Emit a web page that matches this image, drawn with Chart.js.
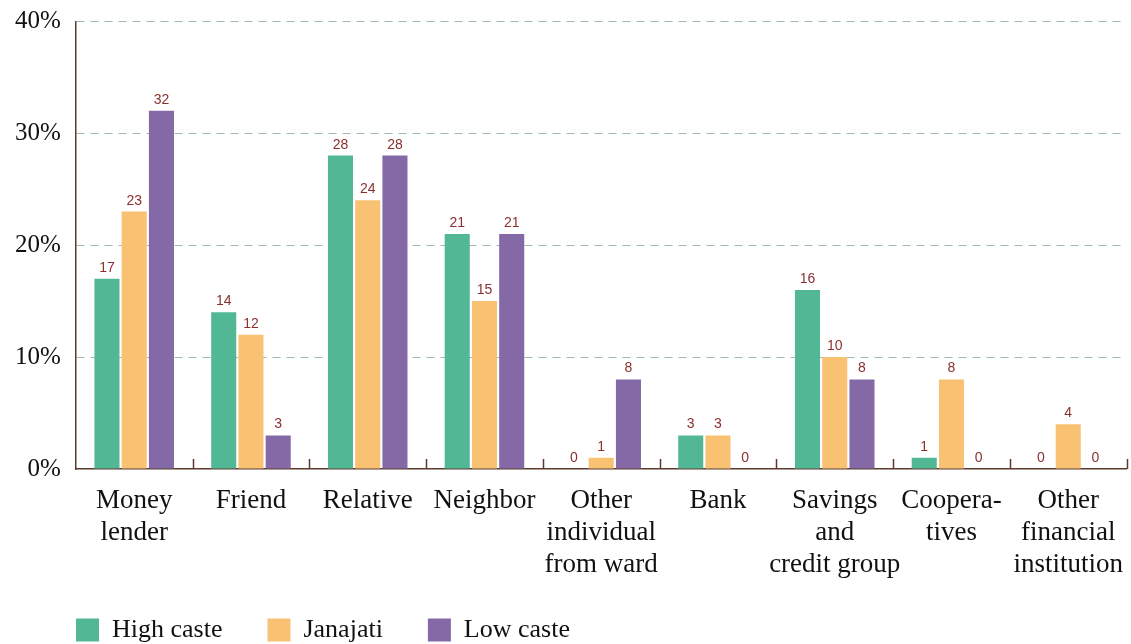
<!DOCTYPE html>
<html>
<head>
<meta charset="utf-8">
<script src="https://cdn.jsdelivr.net/npm/chart.js@4.4.1/dist/chart.umd.min.js"></script>
<style>
  html, body { margin: 0; padding: 0; background: #fff; }
  #wrap { width: 1131px; height: 644px; }
</style>
</head>
<body>
<div id="wrap"><canvas id="chart" width="1131" height="644"></canvas></div>
<script>
// Chart data
const categories = [
    ['Money', 'lender'],
    ['Friend'],
    ['Relative'],
    ['Neighbor'],
    ['Other', 'individual', 'from ward'],
    ['Bank'],
    ['Savings', 'and', 'credit group'],
    ['Coopera-', 'tives'],
    ['Other', 'financial', 'institution']
];
const highCaste = [17, 14, 28, 21, 0, 3, 16, 1, 0];
const janajati = [23, 12, 24, 15, 1, 3, 10, 8, 4];
const lowCaste = [32, 3, 28, 21, 8, 0, 8, 0, 0];
const yTicks = [0, 10, 20, 30, 40];

const serif = '"Liberation Serif", "DejaVu Serif", serif';
const axisColor = '#5b3a2e';

// Value labels above each bar
const valueLabels = {
    id: 'valueLabels',
    afterDatasetsDraw(chart) {
        const ctx = chart.ctx;
        ctx.save();
        ctx.font = '14px "Liberation Sans", Arial, sans-serif';
        ctx.fillStyle = '#8b2f2f';
        ctx.textAlign = 'center';
        ctx.textBaseline = 'alphabetic';
        chart.data.datasets.forEach((ds, i) => {
            const meta = chart.getDatasetMeta(i);
            meta.data.forEach((bar, j) => {
                ctx.fillText(String(ds.data[j]), bar.x, bar.y - 7);
            });
        });
        ctx.restore();
    }
};

// Short upward ticks between categories on the x axis
const categoryTicks = {
    id: 'categoryTicks',
    afterDraw(chart) {
        const ctx = chart.ctx;
        const area = chart.chartArea;
        const n = chart.data.labels.length;
        const step = (area.right - area.left) / n;
        ctx.save();
        ctx.strokeStyle = axisColor;
        ctx.lineWidth = 1.5;
        ctx.beginPath();
        for (let i = 1; i <= n; i++) {
            const px = Math.round(area.left + step * i) + 0.5;
            ctx.moveTo(px, area.bottom);
            ctx.lineTo(px, area.bottom - 10);
        }
        ctx.stroke();
        ctx.restore();
    }
};

// Move the legend so it starts under the plot like the original
const legendShift = {
    id: 'legendShift',
    afterLayout(chart) {
        const lg = chart.legend;
        const dx = 31 - lg.left;
        lg.left += dx;
        lg.right += dx;
        lg.top -= 17;
        lg.bottom -= 17;
    }
};

new Chart(document.getElementById('chart'), {
    type: 'bar',
    data: {
        labels: categories,
        datasets: [
            { label: 'High caste', data: highCaste, backgroundColor: '#52b795' },
            { label: 'Janajati', data: janajati, backgroundColor: '#f9c172' },
            { label: 'Low caste', data: lowCaste, backgroundColor: '#8568a6' }
        ]
    },
    options: {
        responsive: false,
        animation: false,
        devicePixelRatio: 1,
        layout: { padding: { top: 16, right: 0, left: 0, bottom: -26 } },
        datasets: {
            bar: { categoryPercentage: 0.7, barPercentage: 0.92 }
        },
        scales: {
            x: {
                grid: { display: false },
                border: { color: axisColor, width: 1.5 },
                ticks: {
                    color: '#111',
                    font: { family: serif, size: 27, lineHeight: 1.185 },
                    padding: 8,
                    maxRotation: 0,
                    autoSkip: false
                }
            },
            y: {
                min: 0,
                max: 40,
                afterBuildTicks(scale) {
                    scale.ticks = yTicks.map(v => ({ value: v }));
                },
                grid: {
                    color: ctx => ctx.tick && ctx.tick.value === 0 ? 'rgba(0,0,0,0)' : '#9dbab2',
                    lineWidth: 1,
                    drawTicks: false
                },
                border: { color: axisColor, width: 1.5, dash: [8, 6] },
                ticks: {
                    color: '#111',
                    font: { family: serif, size: 25, lineHeight: 0.5 },
                    padding: 15,
                    callback: v => v + '%'
                }
            }
        },
        plugins: {
            legend: {
                position: 'bottom',
                align: 'start',
                labels: {
                    color: '#111',
                    font: { family: serif, size: 26 },
                    boxWidth: 23,
                    boxHeight: 23,
                    padding: 45
                }
            },
            tooltip: { enabled: false }
        }
    },
    plugins: [valueLabels, categoryTicks, legendShift]
});
</script>
</body>
</html>
